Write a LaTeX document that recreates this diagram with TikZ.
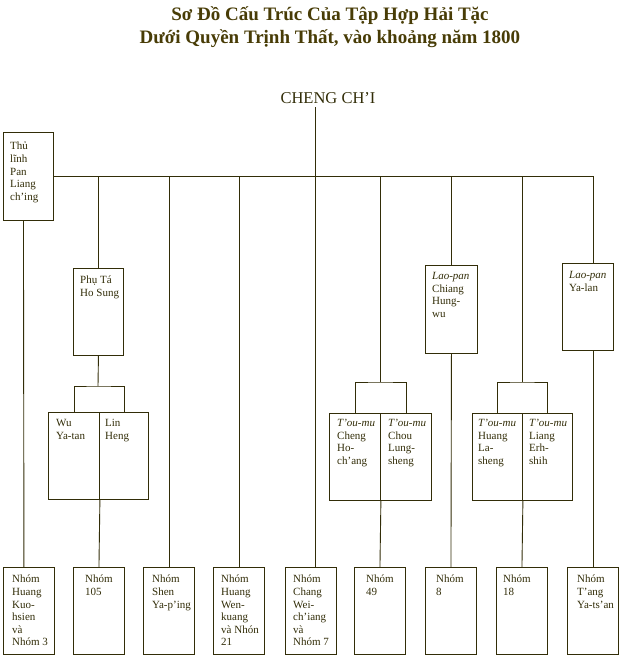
\documentclass[tikz,border=0pt]{standalone}
\usepackage{fontspec}
\setmainfont{Liberation Serif}
\definecolor{ink}{RGB}{50,45,8}
\definecolor{head}{RGB}{72,60,6}
\tikzset{
box/.style={draw=ink,line width=.9pt,anchor=north west,inner sep=0,minimum width=51pt,minimum height=87pt},
txt/.style={anchor=north west,inner sep=0,align=left,text=ink,font=\fontsize{11}{12.6}\selectfont},
link/.style={draw=ink,line width=.9pt}
}
\begin{document}
\begin{tikzpicture}[x=1pt,y=-1pt]
\useasboundingbox (0,0) rectangle (622,656);
\node[anchor=north,align=center,inner sep=0,text=head,font=\fontsize{19}{23}\selectfont\bfseries] (title) at (330,6)
{Sơ Đồ Cấu Trúc Của Tập Hợp Hải Tặc\\Dưới Quyền Trịnh Thất, vào khoảng năm 1800};
\node[anchor=base,inner sep=0,text=ink,font=\fontsize{16.5}{20}\selectfont] (chengchi) at (328,103) {CHENG CH’I};
\coordinate (top) at (315,107);

\node[box,minimum width=50pt,minimum height=88pt] (thu) at (3,132) {};
\node[txt] at ([shift={(7,10)}]thu.north west) {Thủ\\lĩnh\\Pan\\Liang\\ch’ing};
\node[box,minimum width=50pt] (phu) at (73,268) {};
\node[txt] at ([shift={(7,8)}]phu.north west) {Phụ Tá\\Ho Sung};
\node[box] (wu) at (48,412) {};
\node[txt] at ([shift={(8,7)}]wu.north west) {Wu\\Ya-tan};
\node[box,minimum width=49pt] (lin) at (99,412) {};
\node[txt] at ([shift={(6,7)}]lin.north west) {Lin\\Heng};
\node[box,minimum width=52pt,minimum height=88pt] (chiang) at (425,265) {};
\node[txt] at ([shift={(7,7)}]chiang.north west) {\textit{Lao-pan}\\Chiang\\Hung-\\wu};
\node[box] (yalan) at (562,263) {};
\node[txt] at ([shift={(7,8)}]yalan.north west) {\textit{Lao-pan}\\Ya-lan};
\node[box] (cheng) at (329,413) {};
\node[txt] at ([shift={(8,6)}]cheng.north west) {\textit{T’ou-mu}\\Cheng\\Ho-\\ch’ang};
\node[box] (chou) at (380,413) {};
\node[txt] at ([shift={(8,6)}]chou.north west) {\textit{T’ou-mu}\\Chou\\Lung-\\sheng};
\node[box,minimum width=50pt] (huangla) at (472,413) {};
\node[txt] at ([shift={(6,6)}]huangla.north west) {\textit{T’ou-mu}\\Huang\\La-\\sheng};
\node[box,minimum width=50pt] (liang) at (522,413) {};
\node[txt] at ([shift={(7,6)}]liang.north west) {\textit{T’ou-mu}\\Liang\\Erh-\\shih};

\foreach \nm/\x/\dx/\t in {kuo/3/9/{Nhóm\\Huang\\Kuo-\\hsien\\và\\Nhóm 3},n105/73/12/{Nhóm\\105},
shen/143/9/{Nhóm\\Shen\\Ya-p’ing},wen/213/8/{Nhóm\\Huang\\Wen-\\kuang\\và Nhón\\21},
chang/285/8/{Nhóm\\Chang\\Wei-\\ch’iang\\và\\Nhóm 7},n49/354/12/{Nhóm\\49},n8/425/11/{Nhóm\\8},
n18/496/7/{Nhóm\\18},tang/567/10/{Nhóm\\T’ang\\Ya-ts’an}}
{
\node[box] (\nm) at (\x,567) {};
\node[txt] at ([shift={(\dx,8)}]\nm.north west) {\t};
}

\coordinate (br1) at (98,386);
\coordinate (br2) at (380,382);
\coordinate (br3) at (522,382);
\draw[link] (thu.east) -- (tang.north |- thu.east) -- (tang.north |- yalan.north);
\draw[link] (tang.north |- yalan.south) -- (tang.north);
\foreach \nm in {phu,shen,wen,chiang}
\draw[link] (\nm.north |- thu.east) -- (\nm.north);
\draw[link] (top) -- (top |- chang.north);
\draw[link] ([xshift=-5]thu.south) -- ([xshift=-5]kuo.north);
\draw[link] (phu.south) -- (br1);
\draw[link] (wu.north) |- (br1) -| (lin.north);
\draw[link] (br2 |- thu.east) -- (br2);
\draw[link] (cheng.north) |- (br2) -| (chou.north);
\draw[link] (br3 |- thu.east) -- (br3);
\draw[link] (huangla.north) |- (br3) -| (liang.north);
\draw[link] (wu.south east) -- (n105.north);
\draw[link] (cheng.south east) -- (n49.north);
\draw[link] (huangla.south east) -- (n18.north);
\draw[link] (chiang.south) -- (n8.north);
\end{tikzpicture}
\end{document}
